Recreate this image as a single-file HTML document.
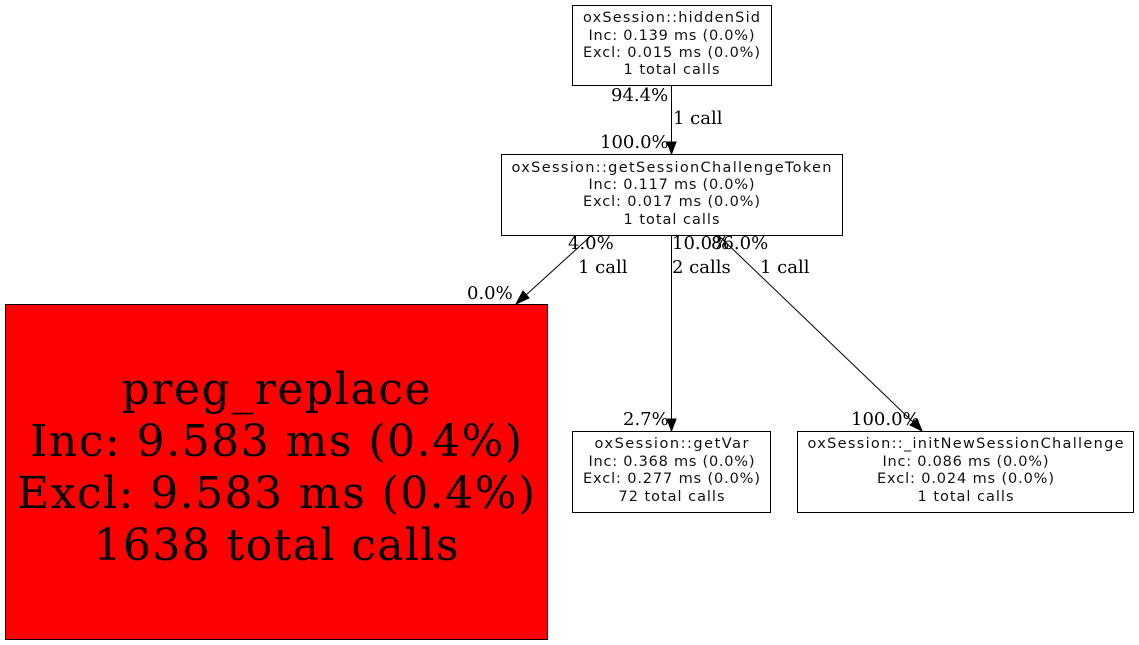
<!DOCTYPE html>
<html><head><meta charset="utf-8"><style>html,body{margin:0;padding:0;background:#fff}svg{display:block}</style></head>
<body>
<svg width="1139" height="645" viewBox="0 0 1139 645" xmlns="http://www.w3.org/2000/svg" font-family="DejaVu Serif, serif">
<rect width="1139" height="645" fill="#fff"/>
<g stroke="#000" stroke-width="1" fill="none">
<rect x="572.5" y="5.5" width="199" height="80"/>
<rect x="501.5" y="154.5" width="341" height="81"/>
<rect x="5.5" y="304.5" width="542" height="335" fill="#ff0000"/>
<rect x="572.5" y="431.5" width="198" height="81"/>
<rect x="797.5" y="431.5" width="336" height="81"/>
<line x1="671.5" y1="85" x2="671.5" y2="143"/>
<line x1="592" y1="235" x2="526" y2="295"/>
<line x1="671.5" y1="235" x2="671.5" y2="420"/>
<line x1="718" y1="235" x2="914" y2="423"/>
</g>
<g fill="#000" stroke="#000">
<polygon points="667,142 676,142 671.5,154"/>
<polygon points="523,291 529,298 516,304"/>
<polygon points="667,419 676,419 671.5,431"/>
<polygon points="910,425 917,419 922,431"/>
</g>
<g font-family="DejaVu Sans, sans-serif" font-size="14.5" text-anchor="middle" fill="#111" lengthAdjust="spacingAndGlyphs">
<text x="671.5" y="22" textLength="177">oxSession::hiddenSid</text>
<text x="671.5" y="40" textLength="166">Inc: 0.139 ms (0.0%)</text>
<text x="671.5" y="57" textLength="177">Excl: 0.015 ms (0.0%)</text>
<text x="671.5" y="74" textLength="96">1 total calls</text>
<text x="671.5" y="172" textLength="320">oxSession::getSessionChallengeToken</text>
<text x="671.5" y="189" textLength="166">Inc: 0.117 ms (0.0%)</text>
<text x="671.5" y="206" textLength="177">Excl: 0.017 ms (0.0%)</text>
<text x="671.5" y="224" textLength="96">1 total calls</text>
<text x="671.5" y="448" textLength="154">oxSession::getVar</text>
<text x="671.5" y="466" textLength="166">Inc: 0.368 ms (0.0%)</text>
<text x="671.5" y="483" textLength="177">Excl: 0.277 ms (0.0%)</text>
<text x="671.5" y="501" textLength="106">72 total calls</text>
<text x="965.5" y="448" textLength="316">oxSession::_initNewSessionChallenge</text>
<text x="965.5" y="466" textLength="166">Inc: 0.086 ms (0.0%)</text>
<text x="965.5" y="483" textLength="177">Excl: 0.024 ms (0.0%)</text>
<text x="965.5" y="501" textLength="96">1 total calls</text>
</g>
<g font-size="44" text-anchor="middle" lengthAdjust="spacingAndGlyphs">
<text x="276" y="404" textLength="309">preg_replace</text>
<text x="276" y="456" textLength="492">Inc: 9.583 ms (0.4%)</text>
<text x="276" y="508" textLength="518">Excl: 9.583 ms (0.4%)</text>
<text x="276" y="560" textLength="365">1638 total calls</text>
</g>
<g font-size="18">
<text x="611" y="101">94.4%</text>
<text x="673" y="124">1 call</text>
<text x="600" y="148">100.0%</text>
<text x="568" y="249">4.0%</text>
<text x="578" y="273">1 call</text>
<text x="467" y="299">0.0%</text>
<text x="672" y="249">10.0%</text>
<text x="711" y="249">86.0%</text>
<text x="672" y="273">2 calls</text>
<text x="760" y="273">1 call</text>
<text x="623" y="425">2.7%</text>
<text x="851" y="425">100.0%</text>
</g>
</svg>
</body></html>
